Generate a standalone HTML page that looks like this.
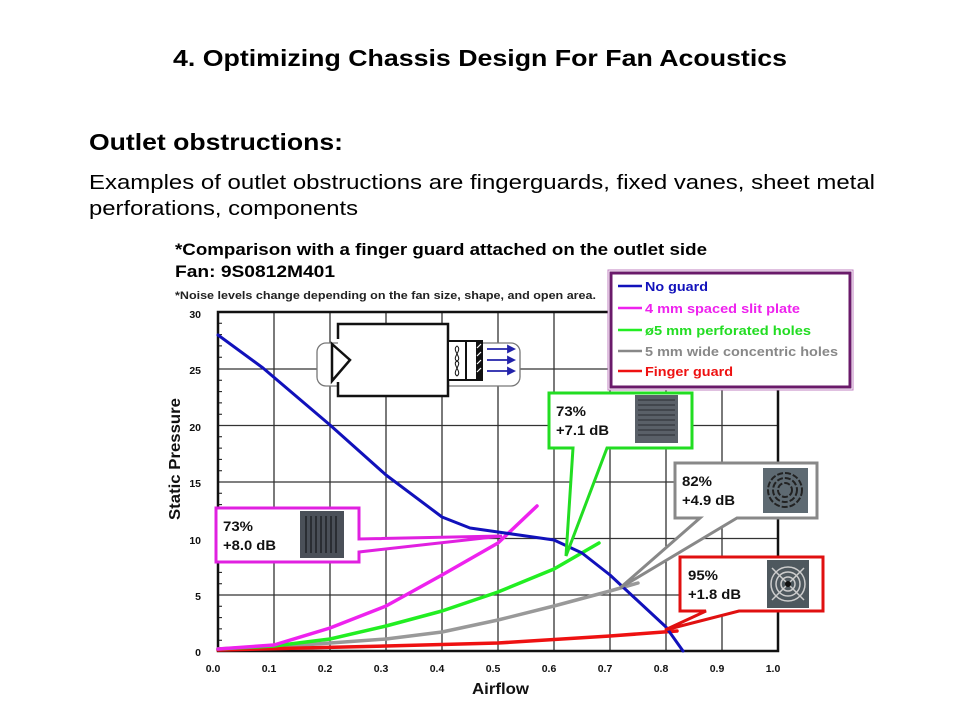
<!DOCTYPE html>
<html><head><meta charset="utf-8"><style>
html,body{margin:0;padding:0;background:#fff;}
body{width:960px;height:720px;overflow:hidden;position:relative;font-family:"Liberation Sans",Arial,sans-serif;}
</style></head><body>
<svg width="960" height="720" viewBox="0 0 960 720" xmlns="http://www.w3.org/2000/svg" font-family="Liberation Sans, Arial, sans-serif">
<text x="173" y="66" textLength="614" lengthAdjust="spacingAndGlyphs" font-size="23.5" font-weight="bold" fill="#000">4. Optimizing Chassis Design For Fan Acoustics</text>
<text x="89" y="150" textLength="254" lengthAdjust="spacingAndGlyphs" font-size="23.5" font-weight="bold" fill="#000">Outlet obstructions:</text>
<text x="89" y="189" textLength="786" lengthAdjust="spacingAndGlyphs" font-size="20.5" fill="#000">Examples of outlet obstructions are fingerguards, fixed vanes, sheet metal</text>
<text x="89" y="215" textLength="269" lengthAdjust="spacingAndGlyphs" font-size="20.5" fill="#000">perforations, components</text>

<text x="175" y="255" textLength="532" lengthAdjust="spacingAndGlyphs" font-size="17" font-weight="bold" fill="#000">*Comparison with a finger guard attached on the outlet side</text>
<text x="175" y="277" textLength="160" lengthAdjust="spacingAndGlyphs" font-size="17" font-weight="bold" fill="#000">Fan: 9S0812M401</text>
<text x="175" y="299" textLength="421" lengthAdjust="spacingAndGlyphs" font-size="11" font-weight="bold" fill="#222">*Noise levels change depending on the fan size, shape, and open area.</text>

<g stroke="#333" stroke-width="1.3">
<line x1="274" y1="312" x2="274" y2="651"/><line x1="330" y1="312" x2="330" y2="651"/>
<line x1="386" y1="312" x2="386" y2="651"/><line x1="442" y1="312" x2="442" y2="651"/>
<line x1="498" y1="312" x2="498" y2="651"/><line x1="554" y1="312" x2="554" y2="651"/>
<line x1="610" y1="312" x2="610" y2="651"/><line x1="666" y1="312" x2="666" y2="651"/>
<line x1="722" y1="312" x2="722" y2="651"/>
<line x1="218" y1="369" x2="778" y2="369"/><line x1="218" y1="425.5" x2="778" y2="425.5"/>
<line x1="218" y1="482" x2="778" y2="482"/><line x1="218" y1="538.5" x2="778" y2="538.5"/>
<line x1="218" y1="595" x2="778" y2="595"/>
</g>
<rect x="218" y="312" width="560" height="339" fill="none" stroke="#111" stroke-width="2.5"/>
<g stroke="#111" stroke-width="1">
<path d="M218 323.3h4M218 334.6h4M218 345.9h4M218 357.2h4M218 380.3h4M218 391.6h4M218 402.9h4M218 414.2h4M218 436.8h4M218 448.1h4M218 459.4h4M218 470.7h4M218 493.3h4M218 504.6h4M218 515.9h4M218 527.2h4M218 549.8h4M218 561.1h4M218 572.4h4M218 583.7h4M218 606.3h4M218 617.6h4M218 628.9h4M218 640.2h4"/>
</g>
<g font-size="10.5" font-weight="bold" fill="#111" text-anchor="end">
<text x="201" y="318">30</text><text x="201" y="374">25</text><text x="201" y="431">20</text>
<text x="201" y="487">15</text><text x="201" y="544">10</text><text x="201" y="600">5</text><text x="201" y="656">0</text>
</g>
<g font-size="10.5" font-weight="bold" fill="#111" text-anchor="middle">
<text x="213" y="672">0.0</text><text x="269" y="672">0.1</text><text x="325" y="672">0.2</text>
<text x="381" y="672">0.3</text><text x="437" y="672">0.4</text><text x="493" y="672">0.5</text>
<text x="549" y="672">0.6</text><text x="605" y="672">0.7</text><text x="661" y="672">0.8</text>
<text x="717" y="672">0.9</text><text x="773" y="672">1.0</text>
</g>
<text x="472" y="694" textLength="57" lengthAdjust="spacingAndGlyphs" font-size="16" font-weight="bold" fill="#111">Airflow</text>
<text transform="translate(180,520) rotate(-90)" textLength="122" lengthAdjust="spacingAndGlyphs" font-size="16" font-weight="bold" fill="#111">Static Pressure</text>

<rect x="317" y="343" width="203" height="43" rx="9" fill="#fff" stroke="#777" stroke-width="1.3"/>
<path d="M338 339 V324 H448 V396 H338 V382" fill="#fff" stroke="#111" stroke-width="2.5"/>
<path d="M332 344 L350 360 L332 381 Z" fill="#fff" stroke="#111" stroke-width="2.5"/>
<rect x="448" y="341" width="34" height="39" fill="#fff" stroke="#111" stroke-width="2"/>
<line x1="466" y1="341" x2="466" y2="380" stroke="#111" stroke-width="2"/>
<rect x="476" y="341" width="6" height="39" fill="#111"/>
<path d="M477 348l4-4M477 356l4-4M477 364l4-4M477 372l4-4" stroke="#fff" stroke-width="1.2"/>
<path d="M457 346 C451 350,463 358,457 361 C451 364,463 372,457 376 C451 372,463 364,457 361 C451 358,463 350,457 346Z" fill="none" stroke="#111" stroke-width="1"/>
<g stroke="#2222aa" stroke-width="1.8" fill="#2222aa">
<line x1="487" y1="349" x2="510" y2="349"/><path d="M514 349 l-6 -3 v6z"/>
<line x1="487" y1="360" x2="510" y2="360"/><path d="M514 360 l-6 -3 v6z"/>
<line x1="487" y1="371" x2="510" y2="371"/><path d="M514 371 l-6 -3 v6z"/>
</g>

<g fill="none" stroke-width="3.5" stroke-linejoin="round" stroke-linecap="round">
<polyline stroke="#999" points="218,649 274,647 330,643 386,639 442,632 498,620 554,606 610,591 638,583"/>
<polyline stroke="#ee1111" points="218,650 386,646 498,643 610,636 677,631"/>
<polyline stroke="#22ee22" points="218,649 274,646 330,639 386,626 442,611 498,592 554,569 599,543"/>
<polyline stroke="#ee22ee" points="218,649 274,645 330,628 386,606 442,575 498,543 537,506"/>
<polyline stroke="#1111bb" stroke-width="3" points="218,335 263,368 330,425 386,475 442,517 470,528 498,532 526,536 554,540 582,553 610,575 638,601 666,627 683,651"/>
</g>

<rect x="608" y="270" width="245" height="120" fill="#fff" stroke="#c080c0" stroke-width="1"/>
<rect x="611" y="273" width="239" height="114" fill="#fff" stroke="#6a1a6a" stroke-width="3"/>
<g stroke-width="2.5">
<line x1="618" y1="286" x2="642" y2="286" stroke="#1111bb"/>
<line x1="618" y1="308" x2="642" y2="308" stroke="#ee22ee"/>
<line x1="618" y1="330" x2="642" y2="330" stroke="#22ee22"/>
<line x1="618" y1="351" x2="642" y2="351" stroke="#888"/>
<line x1="618" y1="371" x2="642" y2="371" stroke="#ee1111"/>
</g>
<g font-size="13" font-weight="bold">
<text x="645" y="291" textLength="63" lengthAdjust="spacingAndGlyphs" fill="#1111bb">No guard</text>
<text x="645" y="313" textLength="155" lengthAdjust="spacingAndGlyphs" fill="#ee22ee">4 mm spaced slit plate</text>
<text x="645" y="335" textLength="166" lengthAdjust="spacingAndGlyphs" fill="#22dd22">ø5 mm perforated holes</text>
<text x="645" y="356" textLength="193" lengthAdjust="spacingAndGlyphs" fill="#888">5 mm wide concentric holes</text>
<text x="645" y="376" textLength="88" lengthAdjust="spacingAndGlyphs" fill="#ee1111">Finger guard</text>
</g>

<path d="M216,508 H359 V539 L502,536 L359,552 V562 H216 Z" fill="#fff" stroke="#e020e0" stroke-width="3"/>
<path d="M549,393 H692 V448 H607 L566,556 L573,448 H549 Z" fill="#fff" stroke="#22dd22" stroke-width="3"/>
<path d="M675,463 H817 V518 H737 L620,588 L700,518 H675 Z" fill="#fff" stroke="#888" stroke-width="3"/>
<path d="M680,557 H823 V611 H739 L665,630 L706,611 H680 Z" fill="#fff" stroke="#e01010" stroke-width="3"/>

<g font-size="13.5" font-weight="bold" fill="#111">
<text x="223" y="531" textLength="30" lengthAdjust="spacingAndGlyphs">73%</text><text x="223" y="550" textLength="53" lengthAdjust="spacingAndGlyphs">+8.0 dB</text>
<text x="556" y="416" textLength="30" lengthAdjust="spacingAndGlyphs">73%</text><text x="556" y="435" textLength="53" lengthAdjust="spacingAndGlyphs">+7.1 dB</text>
<text x="682" y="486" textLength="30" lengthAdjust="spacingAndGlyphs">82%</text><text x="682" y="505" textLength="53" lengthAdjust="spacingAndGlyphs">+4.9 dB</text>
<text x="688" y="580" textLength="30" lengthAdjust="spacingAndGlyphs">95%</text><text x="688" y="599" textLength="53" lengthAdjust="spacingAndGlyphs">+1.8 dB</text>
</g>

<rect x="300" y="511" width="44" height="47" fill="#4a5058"/>
<g stroke="#2a2e33" stroke-width="2"><path d="M306 516v37M311 516v37M316 516v37M321 516v37M326 516v37M331 516v37M336 516v37"/></g>
<rect x="635" y="395" width="43" height="48" fill="#5a6068"/>
<g stroke="#3a3e44" stroke-width="1.5"><path d="M638 400h37M638 405h37M638 410h37M638 415h37M638 420h37M638 425h37M638 430h37M638 435h37"/></g>
<rect x="763" y="468" width="45" height="45" fill="#5e6a72"/>
<g fill="none" stroke="#222" stroke-width="2" stroke-dasharray="6 2"><circle cx="785" cy="490" r="17"/><circle cx="785" cy="490" r="12"/><circle cx="785" cy="490" r="7"/></g>
<rect x="767" y="560" width="42" height="48" fill="#4e585e"/>
<g fill="none" stroke="#ccc" stroke-width="1.5"><circle cx="788" cy="584" r="17"/><circle cx="788" cy="584" r="12"/><circle cx="788" cy="584" r="7"/><path d="M772 568l32 32M804 568l-32 32"/></g>
<circle cx="788" cy="584" r="3" fill="#111"/>
</svg>
</body></html>
